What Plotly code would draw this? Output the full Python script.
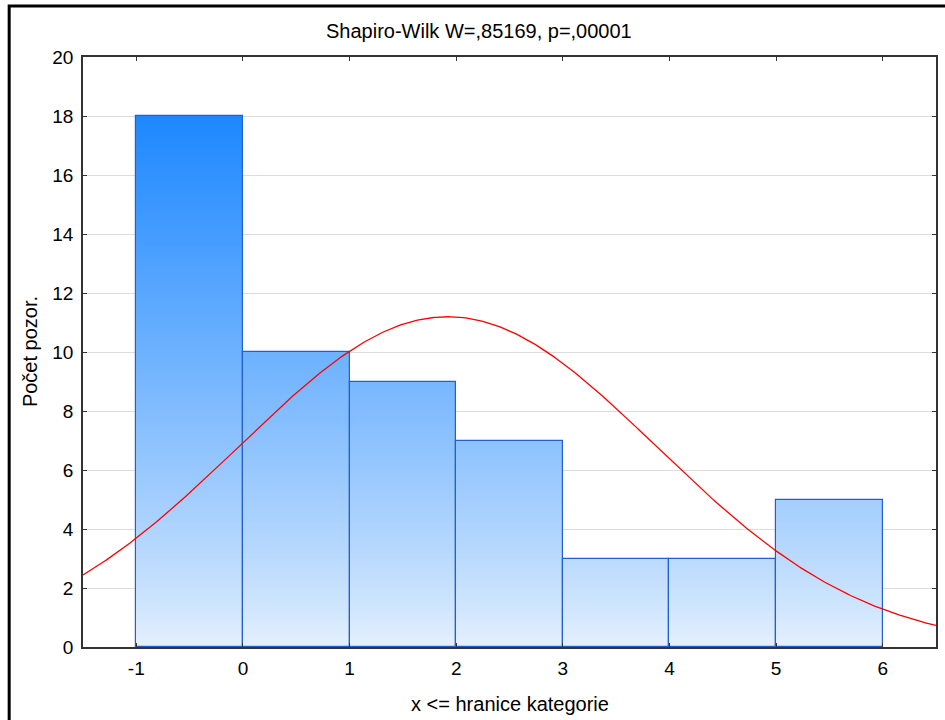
import numpy as np
import plotly.graph_objects as go

# Histogram bins (upper class boundaries) and observed counts
bin_edges = [-1, 0, 1, 2, 3, 4, 5, 6]
counts = [18, 10, 9, 7, 3, 3, 5]

# Fitted normal distribution parameters (from raw data)
n_obs = 55
fit_mean = 1.92
fit_sd = 1.96

x_ticks = [-1, 0, 1, 2, 3, 4, 5, 6]
y_ticks = list(range(0, 21, 2))

title_text = "Shapiro-Wilk W=,85169, p=,00001"
x_title = "x <= hranice kategorie"
y_title = "Počet pozor."

FONT = "Liberation Sans, Arial, sans-serif"

centers = [(a + b) / 2 for a, b in zip(bin_edges[:-1], bin_edges[1:])]
bin_w = bin_edges[1] - bin_edges[0]

# Vertical gradient: colour depends on the absolute count level
c_low = np.array([230, 241, 253])
c_high = np.array([30, 136, 255])
g_top = 18.0
step = 0.1


def grad_color(level):
    t = min(max(level / g_top, 0.0), 1.0) ** 0.85
    c = c_low + (c_high - c_low) * t
    return "rgb(%d,%d,%d)" % tuple(np.round(c).astype(int))


sx, sbase, sy, scol = [], [], [], []
for cx, h in zip(centers, counts):
    k = 0
    while k * step < h - 1e-9:
        b = k * step
        top = min(h, b + step)
        sx.append(cx)
        sbase.append(b)
        sy.append(top - b)
        scol.append(grad_color(b + step / 2))
        k += 1

fig = go.Figure()

fig.add_trace(go.Bar(
    x=sx, y=sy, base=sbase, width=bin_w,
    marker=dict(color=scol, line=dict(width=0)),
    hoverinfo="skip", showlegend=False,
))

# Bar outlines
fig.add_trace(go.Bar(
    x=centers, y=counts, width=bin_w,
    marker=dict(color="rgba(0,0,0,0)", line=dict(color="#2260D0", width=1.2)),
    showlegend=False,
))

# Expected counts under the fitted normal curve
xc = np.linspace(-1.5, 6.5, 400)
yc = n_obs * bin_w / (fit_sd * np.sqrt(2 * np.pi)) * np.exp(-0.5 * ((xc - fit_mean) / fit_sd) ** 2)
fig.add_trace(go.Scatter(
    x=xc, y=yc, mode="lines",
    line=dict(color="#FF0000", width=1.3),
    showlegend=False,
))

PW, PH = 855, 590  # plot area size in pixels

fig.update_layout(
    width=945, height=720,
    margin=dict(l=83, r=7, t=57, b=73),
    paper_bgcolor="white", plot_bgcolor="white",
    barmode="overlay", bargap=0,
    font=dict(family=FONT, size=19, color="#000000"),
    annotations=[
        dict(text=title_text, xref="paper", yref="paper",
             x=(480 - 83) / PW, y=1 + (57 - 31) / PH, xanchor="center", yanchor="middle",
             showarrow=False, font=dict(family=FONT, size=20, color="#000000")),
        dict(text=x_title, xref="paper", yref="paper",
             x=(511 - 83) / PW, y=-(704 - 647) / PH, xanchor="center", yanchor="middle",
             showarrow=False, font=dict(family=FONT, size=20, color="#000000")),
        dict(text=y_title, xref="paper", yref="paper", textangle=-90,
             x=-(83 - 30) / PW, y=(647 - 352) / PH, xanchor="center", yanchor="middle",
             showarrow=False, font=dict(family=FONT, size=20, color="#000000")),
    ],
    shapes=[dict(type="rect", xref="paper", yref="paper",
                 x0=-(83 - 9) / PW, x1=1.05, y0=-0.2, y1=1 + (57 - 6) / PH,
                 line=dict(color="#000000", width=3), layer="below")],
)

fig.update_xaxes(
    range=[-1.5, 6.5], tickvals=x_ticks, ticktext=[str(v) for v in x_ticks],
    showgrid=False, zeroline=False,
    showline=True, linecolor="#333333", linewidth=1.5, mirror="ticks",
    ticks="inside", ticklen=4, tickcolor="#333333",
    tickfont=dict(size=19), ticklabelstandoff=3,
)
fig.update_yaxes(
    range=[0, 20], tickvals=y_ticks,
    showgrid=True, gridcolor="#DCDCDC", gridwidth=1, zeroline=False,
    showline=True, linecolor="#333333", linewidth=1.5, mirror="ticks",
    ticks="inside", ticklen=4, tickcolor="#333333",
    tickfont=dict(size=19), ticklabelstandoff=4,
)

fig.write_html("out.html")
